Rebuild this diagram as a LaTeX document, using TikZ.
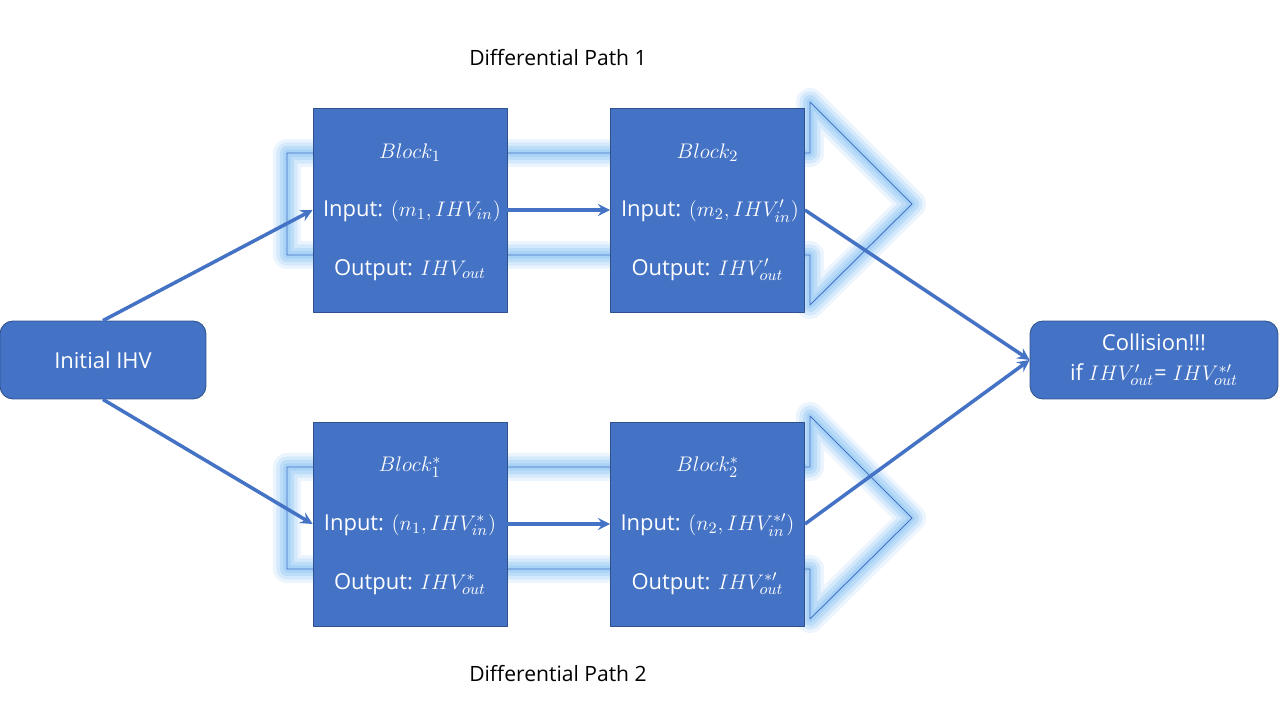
\documentclass[tikz,border=0pt]{standalone}
\usepackage{fontspec}
\setmainfont{Open Sans}
\usetikzlibrary{arrows}
\definecolor{blockblue}{HTML}{4472C4}
\definecolor{blockedge}{HTML}{2F528F}
\definecolor{glowblue}{HTML}{9FCDF5}
\begin{document}
\begin{tikzpicture}[x=0.02cm,y=-0.02cm,>=stealth, line join=round,
	blockbox/.style={draw=blockedge,fill=blockblue,line width=0.5pt,minimum width=3.88cm,minimum height=4.08cm,inner sep=0pt},
	endbox/.style={draw=blockedge,fill=blockblue,line width=0.5pt,rounded corners=0.26cm,minimum height=1.56cm,inner sep=0pt,text=white,align=center,font=\fontsize{12.5}{17}\selectfont},
	intext/.style={text=white,inner sep=0pt,font=\fontsize{12.5}{14}\selectfont},
	pathlabel/.style={inner sep=0pt,font=\fontsize{12}{14}\selectfont},
	flow/.style={->,draw=blockblue,line width=2pt}]
	\useasboundingbox (0,0) rectangle (1280,720);
	\def\ytop{0} \def\ybot{314}
	% hollow glowing arrows behind the blocks
	\foreach \dy in {\ytop,\ybot}{
		\foreach \w/\o in {16pt/0.2,12pt/0.3,8pt/0.45,4pt/0.7}
			\draw[glowblue,line width=\w,opacity=\o] (287,153+\dy) -- (810,153+\dy) -- (810,102+\dy) -- (912,204+\dy) -- (810,305+\dy) -- (810,255+\dy) -- (287,255+\dy) -- cycle;
		\draw[blockblue,line width=0.5pt] (287,153+\dy) -- (810,153+\dy) -- (810,102+\dy) -- (912,204+\dy) -- (810,305+\dy) -- (810,255+\dy) -- (287,255+\dy) -- cycle;
	}
	\node[pathlabel] (p1) at (558,58) {Differential Path 1};
	\node[pathlabel] (p2) at (558,674) {Differential Path 2};
	\node[endbox,minimum width=4.12cm] (init) at (103,360) {Initial IHV};
	\node[endbox,minimum width=4.96cm] (coll) at (1154,360) {Collision!!!\\if $IHV'_{out}$= $IHV^{*\prime}_{out}$};
	% path 1
	\node[blockbox] (b1) at (410,210) {};
	\node[blockbox] (b2) at (707.5,210) {};
	\node[intext] (b1name) at (410,153) {$Block_1$};
	\node[intext] (b1in) at (412,211) {Input: $(m_1, IHV_{in})$};
	\node[intext] (b1out) at (410,270) {Output: $IHV_{out}$};
	\node[intext] (b2name) at (707.5,153) {$Block_2$};
	\node[intext] (b2in) at (710,211) {Input: $(m_2, IHV'_{in})$};
	\node[intext] (b2out) at (707.5,270) {Output: $IHV'_{out}$};
	% path 2
	\node[blockbox] (b1s) at (410,524) {};
	\node[blockbox] (b2s) at (707.5,524) {};
	\node[intext] (b1sname) at (410,467) {$Block^*_1$};
	\node[intext] (b1sin) at (410,525) {Input: $(n_1, IHV^*_{in})$};
	\node[intext] (b1sout) at (410,584) {Output: $IHV^*_{out}$};
	\node[intext] (b2sname) at (707.5,467) {$Block^*_2$};
	\node[intext] (b2sin) at (707.5,525) {Input: $(n_2, IHV^{*\prime}_{in})$};
	\node[intext] (b2sout) at (707.5,584) {Output: $IHV^{*\prime}_{out}$};
	% connectors
	\draw[flow] (init.north) -- (b1.west);
	\draw[flow] (init.south) -- (b1s.west);
	\draw[flow] (b1.east) -- (b2.west);
	\draw[flow] (b1s.east) -- (b2s.west);
	\draw[flow] (b2.east) -- (coll.west);
	\draw[flow] (b2s.east) -- (coll.west);
\end{tikzpicture}
\end{document}
